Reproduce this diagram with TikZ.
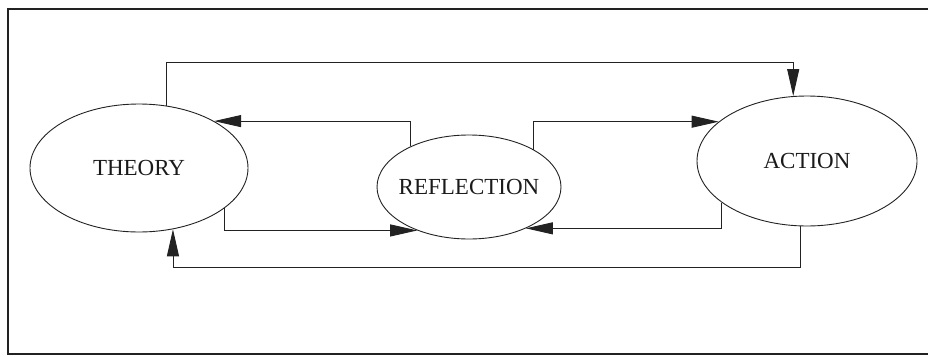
\documentclass[tikz,border=0pt]{standalone}
\usepackage{fontspec}
\setmainfont{Liberation Serif}
\usepackage{tikz}
\usetikzlibrary{shapes.geometric,arrows.meta}
\definecolor{inkline}{HTML}{222222}
\definecolor{inktext}{HTML}{1A1A1A}

\begin{document}
\begin{tikzpicture}[
  x=1pt, y=-1pt,
  bubble/.style={ellipse, draw=inkline, line width=0.9pt, inner xsep=-30pt, inner ysep=0pt, align=center, text=inktext, font=\fontsize{23}{27}\selectfont},
  flowarrow/.style={draw=inkline, line width=0.9pt, -{Triangle[length=27pt,width=12pt]}},
  framebox/.style={draw=inkline, line width=1.8pt}
]
  \useasboundingbox (0,0) rectangle (928,356);
  \draw[framebox] (928,9) -- (8,9) -- (8,354) -- (928,354);

  \node[bubble, minimum width=218pt, minimum height=128pt] (theory) at (139,168) {THEORY};
  \node[bubble, minimum width=184pt, minimum height=104pt] (reflection) at (469,187) {REFLECTION};
  \node[bubble, minimum width=220pt, minimum height=130pt] (action) at (807,161) {ACTION};

  \draw[flowarrow] (theory.66) -- (theory.66 |- 0,62) -| (action.102);
  \draw[flowarrow] (reflection.145) |- (theory.32);
  \draw[flowarrow] (reflection.30) |- (action.156);
  \draw[flowarrow] (theory.-25) |- (reflection.220);
  \draw[flowarrow] (action.206) |- (reflection.-36);
  \draw[flowarrow] (action.264) -- (action.264 |- 0,267) -| (theory.-61);
\end{tikzpicture}
\end{document}
